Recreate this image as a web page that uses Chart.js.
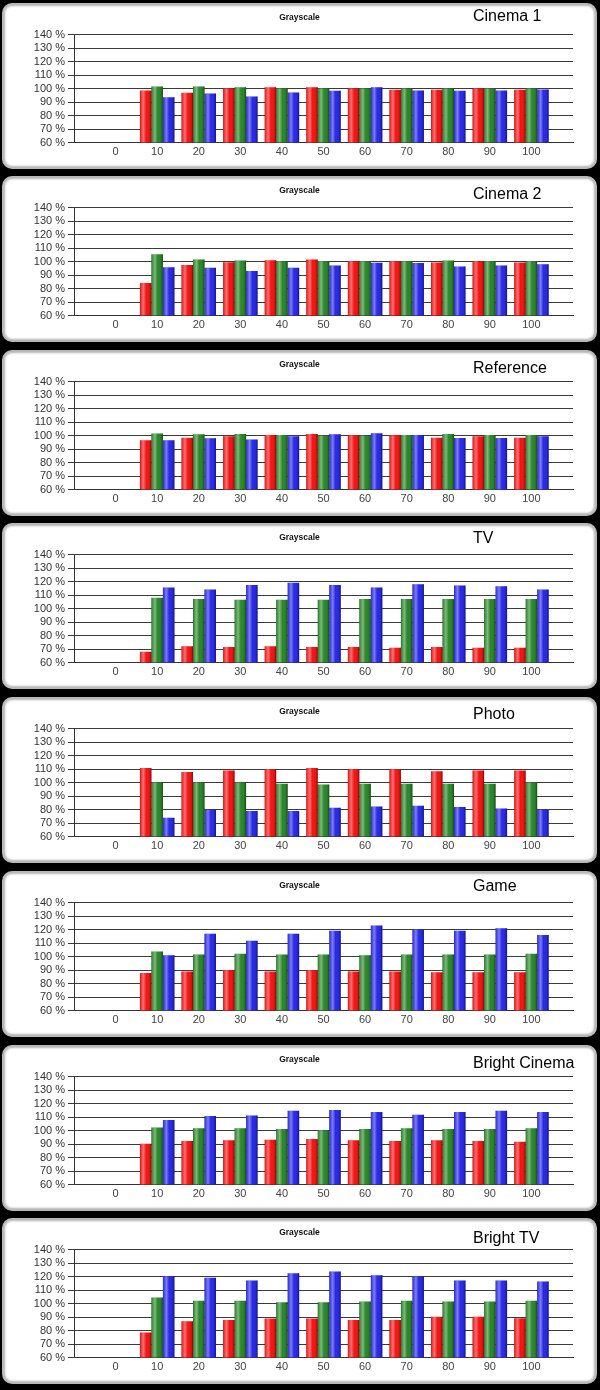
<!DOCTYPE html>
<html>
<head>
<meta charset="utf-8">
<title>Grayscale</title>
<script src="https://cdn.jsdelivr.net/npm/chart.js@4.4.1/dist/chart.umd.min.js"></script>
<style>
  html, body { margin: 0; padding: 0; background: #000; }
  body { width: 600px; height: 1390px; position: relative; overflow: hidden; }
  .panel {
    position: absolute; left: 2px; width: 595px; height: 166px;
    box-sizing: border-box; background: #fff;
    border: 2px solid #b8b8b8; border-radius: 10px;
    box-shadow: inset 0 0 3px #666;
  }
  .panel canvas { position: absolute; left: 0; top: 0; }
  .title {
    position: absolute; left: 0; width: 591px; top: 7px; text-align: center;
    font: bold 8.5px "Liberation Sans", Arial, sans-serif; line-height: 10px; color: #111;
  }
  .mode {
    position: absolute; left: 469px;
    font: 16px "Liberation Sans", Arial, sans-serif; line-height: 18px; color: #000;
  }
</style>
</head>
<body>
<script>
// Grayscale RGB balance per picture mode (0 step has no bars)

const categories = ['0', '10', '20', '30', '40', '50', '60', '70', '80', '90', '100'];
const yTicks = [60, 70, 80, 90, 100, 110, 120, 130, 140];
const modes = ['Cinema 1', 'Cinema 2', 'Reference', 'TV', 'Photo', 'Game', 'Bright Cinema', 'Bright TV'];

const cinema1Red   = [null, 98.5, 96.8, 100, 101, 101, 100, 99, 99, 100, 99];
const cinema1Green = [null, 101.5, 101.5, 101, 100, 100, 100, 100, 100, 100, 100];
const cinema1Blue  = [null, 93.6, 96.3, 94, 97, 98.3, 101, 98.5, 98.3, 98.5, 99.3];

const cinema2Red   = [null, 84, 97.5, 99.5, 101, 101.5, 100.2, 100.2, 99.3, 100.2, 99.3];
const cinema2Green = [null, 105.4, 101.5, 100.7, 100.2, 100.2, 100.2, 100.2, 100.7, 100.2, 100.2];
const cinema2Blue  = [null, 95.8, 95.3, 93, 95.3, 97, 99, 98.8, 96.3, 97, 98];

const referenceRed   = [null, 96.5, 98.4, 99.4, 100.4, 101.1, 100.1, 100.1, 98.4, 99.4, 98.4];
const referenceGreen = [null, 101.4, 100.9, 101.1, 100.4, 99.9, 99.9, 100.4, 101.1, 100.4, 100.4];
const referenceBlue  = [null, 96.5, 98, 97, 99.4, 100.9, 101.6, 100.4, 98.2, 98.2, 99.4];

const tvRed   = [null, 68, 72, 71.5, 72, 71.5, 71.5, 71, 71.5, 71, 71];
const tvGreen = [null, 108, 107, 106.5, 106.5, 106.5, 107, 107, 107, 107, 107];
const tvBlue  = [null, 115.5, 114, 117.5, 119, 117.5, 115.5, 118, 117, 116.5, 114];

const photoRed   = [null, 110.7, 107.8, 108.8, 109.8, 110.7, 109.8, 109.8, 108.3, 108.8, 108.8];
const photoGreen = [null, 100, 100, 100, 99, 98.5, 99, 99, 99, 99, 100];
const photoBlue  = [null, 73.8, 79.8, 78.8, 78.8, 81.3, 82.3, 82.8, 81.8, 80.8, 79.8];

const gameRed   = [null, 87.8, 88.8, 89.8, 88.8, 89.8, 88.8, 88.8, 88.3, 88.3, 88.3];
const gameGreen = [null, 103.7, 101.5, 102, 101.5, 101.5, 101, 101.5, 101.5, 101.5, 102];
const gameBlue  = [null, 101, 116.8, 111.7, 116.8, 119, 123, 120, 119, 121, 116];

const brightCinemaRed   = [null, 90.2, 92.2, 92.7, 93.2, 93.7, 92.7, 92.2, 92.7, 92.2, 91.7];
const brightCinemaGreen = [null, 102.2, 101.7, 101.7, 101.2, 100.2, 101.2, 101.7, 101.2, 101.2, 101.7];
const brightCinemaBlue  = [null, 107.8, 110.8, 111.2, 114.7, 115.2, 113.7, 111.7, 113.7, 114.7, 113.7];

const brightTvRed   = [null, 78.5, 86.8, 87.8, 88.8, 88.8, 87.8, 87.8, 90.2, 90.2, 89];
const brightTvGreen = [null, 104.5, 102, 102, 101, 101, 101.5, 102, 101.5, 101.5, 102];
const brightTvBlue  = [null, 120, 119, 117, 122.5, 123.7, 121, 120, 117, 117, 116.3];

const redSeries   = [cinema1Red, cinema2Red, referenceRed, tvRed, photoRed, gameRed, brightCinemaRed, brightTvRed];
const greenSeries = [cinema1Green, cinema2Green, referenceGreen, tvGreen, photoGreen, gameGreen, brightCinemaGreen, brightTvGreen];
const blueSeries  = [cinema1Blue, cinema2Blue, referenceBlue, tvBlue, photoBlue, gameBlue, brightCinemaBlue, brightTvBlue];

// layout
const panelTops = [3, 176, 350, 523, 697, 871, 1045, 1218];
const modeLabelTops = [2, 7, 7, 4, 6, 4, 7, 9];
const tickFont = { family: '"Liberation Sans Narrow", "Liberation Sans", Arial, sans-serif', size: 11 };

// cylinder-like shading drawn over each bar, clipped to the plot area
const barShine = {
  id: 'barShine',
  afterDatasetsDraw(chart) {
    const ctx = chart.ctx;
    const area = chart.chartArea;
    ctx.save();
    ctx.beginPath();
    ctx.rect(area.left, area.top, area.right - area.left, area.bottom - area.top);
    ctx.clip();
    chart.data.datasets.forEach((ds, i) => {
      chart.getDatasetMeta(i).data.forEach(bar => {
        const p = bar.getProps(['x', 'y', 'base', 'width'], true);
        if (p.y == null || isNaN(p.y) || isNaN(p.base)) return;
        const left = p.x - p.width / 2;
        const bottom = Math.min(p.base, area.bottom);
        const g = ctx.createLinearGradient(left, 0, left + p.width, 0);
        g.addColorStop(0, 'rgba(0,0,0,0.30)');
        g.addColorStop(0.12, 'rgba(255,255,255,0.15)');
        g.addColorStop(0.3, 'rgba(255,255,255,0.40)');
        g.addColorStop(0.55, 'rgba(255,255,255,0)');
        g.addColorStop(0.85, 'rgba(0,0,0,0.10)');
        g.addColorStop(1, 'rgba(0,0,0,0.45)');
        ctx.fillStyle = g;
        ctx.fillRect(left, p.y, p.width, bottom - p.y);
      });
    });
    ctx.restore();
  }
};

const padded = arr => [null, ...arr, null];

modes.forEach((mode, i) => {
  const panel = document.createElement('div');
  panel.className = 'panel';
  panel.style.top = panelTops[i] + 'px';

  const canvas = document.createElement('canvas');
  canvas.width = 591;
  canvas.height = 162;
  panel.appendChild(canvas);

  const title = document.createElement('div');
  title.className = 'title';
  title.textContent = 'Grayscale';
  panel.appendChild(title);

  const label = document.createElement('div');
  label.className = 'mode';
  label.style.top = modeLabelTops[i] + 'px';
  label.textContent = mode;
  panel.appendChild(label);

  document.body.appendChild(panel);

  new Chart(canvas, {
    type: 'bar',
    data: {
      labels: ['', ...categories, ''],
      datasets: [
        { label: 'Red', data: padded(redSeries[i]), backgroundColor: '#f21414' },
        { label: 'Green', data: padded(greenSeries[i]), backgroundColor: '#2a862a' },
        { label: 'Blue', data: padded(blueSeries[i]), backgroundColor: '#2828e6' }
      ]
    },
    options: {
      responsive: false,
      animation: false,
      events: [],
      categoryPercentage: 0.83,
      barPercentage: 1,
      layout: { padding: { top: 29.5, right: 22, left: 0, bottom: 0 } },
      plugins: {
        legend: { display: false },
        title: { display: false },
        tooltip: { enabled: false }
      },
      scales: {
        x: {
          offset: false,
          grid: { display: false, drawTicks: false, tickLength: 0 },
          border: { display: true, color: '#333', width: 1 },
          ticks: {
            autoSkip: false, maxRotation: 0, padding: 3,
            font: tickFont, color: '#444'
          },
          afterFit: scale => { scale.height = 24.5; }
        },
        y: {
          min: yTicks[0],
          max: yTicks[yTicks.length - 1],
          grid: { color: '#3a3a3a', lineWidth: 1, tickLength: 6 },
          border: { display: true, color: '#333', width: 1 },
          ticks: {
            autoSkip: false,
            stepSize: yTicks[1] - yTicks[0],
            padding: 3,
            font: tickFont,
            color: '#333',
            callback: v => v + ' %'
          },
          afterFit: scale => { scale.width = 70; }
        }
      }
    },
    plugins: [barShine]
  });
});
</script>
</body>
</html>
